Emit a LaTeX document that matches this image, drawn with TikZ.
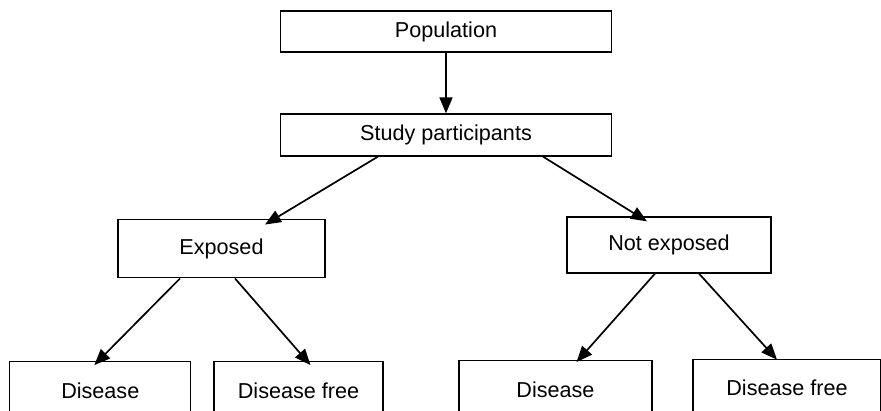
\documentclass[tikz,border=0pt]{standalone}
\usepackage{fontspec}
\setmainfont{Liberation Sans}
\usetikzlibrary{arrows.meta}
\begin{document}
\begin{tikzpicture}[x=1pt,y=-1pt,
  box/.style={draw=black,line width=1.2pt,fill=white,rectangle,inner sep=0pt,
    font=\fontsize{21.6}{26}\selectfont},
  arr/.style={draw=black,line width=1.7pt,-{Triangle[length=16pt,width=13pt]}}]
\useasboundingbox (0,0) rectangle (881,411);
\clip (0,0) rectangle (881,411);
\fill[white] (0,0) rectangle (881,411);
% tree of boxes
\node[box,minimum width=331pt,minimum height=41pt] (pop) at (446,31.5) {Population};
\node[box,minimum width=331pt,minimum height=42pt] (study) at (446,135) {Study participants};
\node[box,minimum width=207pt,minimum height=58.7pt] (exp) at (221.5,248.5) {Exposed};
\node[box,minimum width=204pt,minimum height=56pt] (nexp) at (669,245) {Not exposed};
\node[box,minimum width=181pt,minimum height=58pt] (dis1) at (100.3,390.7) {Disease};
\node[box,minimum width=169pt,minimum height=58pt] (free1) at (298.5,390.7) {Disease free};
\node[box,minimum width=193pt,minimum height=58pt] (dis2) at (555.5,389.7) {Disease};
\node[box,minimum width=188pt,minimum height=56pt] (free2) at (787,387.3) {Disease free};
% connectors
\draw[arr] (pop.south) -- (study.north);
\draw[arr] ([xshift=-68pt]study.south) -- ([xshift=43.5pt,yshift=-6pt]exp.north);
\draw[arr] ([xshift=97pt]study.south) -- ([xshift=-22pt,yshift=-5pt]nexp.north);
\draw[arr] ([xshift=-41.5pt]exp.south) -- ([xshift=-6pt,yshift=-4pt]dis1.north);
\draw[arr] ([xshift=13.5pt]exp.south) -- ([xshift=12pt,yshift=-4pt]free1.north);
\draw[arr] ([xshift=-14pt]nexp.south) -- ([xshift=21pt,yshift=-2pt]dis2.north);
\draw[arr] ([xshift=30pt]nexp.south) -- ([xshift=-10pt,yshift=-1pt]free2.north);
\end{tikzpicture}
\end{document}
